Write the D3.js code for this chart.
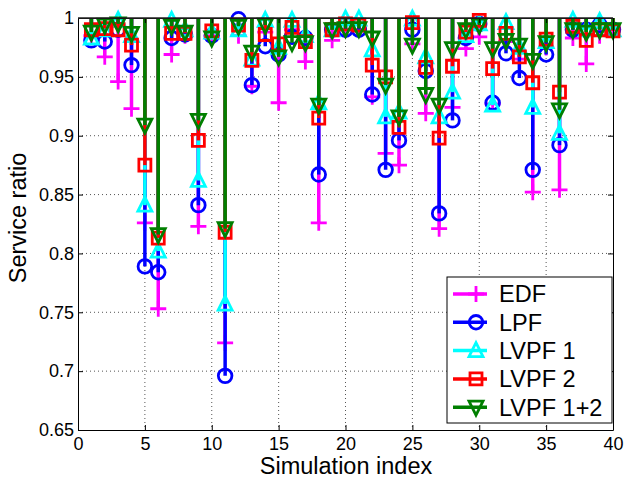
<!DOCTYPE html>
<html>
<head>
<meta charset="utf-8">
<script src="https://cdn.jsdelivr.net/npm/d3@7"></script>
<style>
  body { margin: 0; background: #fff; }
  text { font-family: "Liberation Sans", Arial, sans-serif; fill: #000; }
</style>
</head>
<body>
<div class="chart"></div>
<script>
/* Data
============================================= */
const simIndex = d3.range(1, 41);

const edf = [0.985, 0.967, 0.946, 0.923, 0.826, 0.753, 0.969, 0.985, 0.823, 0.985,
             0.724, 0.985, 0.942, 0.988, 0.928, 0.990, 0.963, 0.826, 0.981, 0.990,
             0.990, 0.933, 0.885, 0.875, 0.978, 0.919, 0.821, 0.924, 0.974, 0.984,
             0.927, 0.980, 0.965, 0.852, 0.975, 0.854, 0.983, 0.961, 0.985, 0.990];

const lpf = [0.981, 0.980, 0.990, 0.960, 0.789, 0.784, 0.983, 0.986, 0.841, 0.985,
             0.696, 0.999, 0.943, 0.976, 0.969, 0.984, 0.983, 0.867, 0.990, 0.990,
             0.990, 0.935, 0.871, 0.896, 0.990, 0.955, 0.834, 0.913, 0.983, 0.995,
             0.928, 0.970, 0.949, 0.871, 0.969, 0.892, 0.990, 0.990, 0.994, 0.990];

const lvpf1 = [0.983, 0.990, 0.998, 0.985, 0.841, 0.802, 0.998, 0.990, 0.862, 0.988,
               0.757, 0.990, 0.965, 0.998, 0.975, 0.998, 0.985, 0.928, 0.990, 0.999,
               0.999, 0.973, 0.916, 0.920, 0.999, 0.967, 0.916, 0.937, 0.985, 0.995,
               0.926, 0.996, 0.975, 0.924, 0.980, 0.902, 0.998, 0.990, 0.997, 0.990];

const lvpf2 = [0.990, 0.991, 0.990, 0.977, 0.875, 0.813, 0.987, 0.987, 0.896, 0.989,
               0.818, 0.994, 0.964, 0.986, 0.978, 0.992, 0.980, 0.915, 0.990, 0.995,
               0.994, 0.960, 0.950, 0.907, 0.996, 0.958, 0.898, 0.959, 0.988, 0.998,
               0.957, 0.987, 0.967, 0.945, 0.982, 0.937, 0.993, 0.981, 0.990, 0.989];

const lvpf12 = [0.988, 0.994, 0.995, 0.987, 0.909, 0.816, 0.993, 0.988, 0.913, 0.983,
                0.821, 0.993, 0.971, 0.994, 0.967, 0.979, 0.979, 0.926, 0.990, 0.991,
                0.991, 0.983, 0.943, 0.916, 0.977, 0.935, 0.926, 0.974, 0.990, 0.994,
                0.974, 0.981, 0.977, 0.964, 0.979, 0.922, 0.990, 0.988, 0.990, 0.990];

const seriesNames = ["EDF", "LPF", "LVPF 1", "LVPF 2", "LVPF 1+2"];
const seriesValues = [edf, lpf, lvpf1, lvpf2, lvpf12];
const seriesColors = ["#ff00ff", "#0000ff", "#00ffff", "#ff0000", "#007f00"];
const seriesMarkers = ["plus", "circle", "triangleUp", "square", "triangleDown"];

const xTicks = [0, 5, 10, 15, 20, 25, 30, 35, 40];
const yTicks = [0.65, 0.7, 0.75, 0.8, 0.85, 0.9, 0.95, 1];

const textX = "Simulation index";
const textY = "Service ratio";

/* Layout
============================================= */
const SVG_WIDTH = 624;
const SVG_HEIGHT = 482;

var margin = { top: 18, left: 78, right: 11, bottom: 52 };
var width = SVG_WIDTH - margin.left - margin.right;
var height = SVG_HEIGHT - margin.top - margin.bottom;

var svg = d3.select(".chart")
    .append("svg")
    .attr("width", SVG_WIDTH)
    .attr("height", SVG_HEIGHT);

var chart = svg.append("g")
    .attr("transform", `translate(${margin.left}, ${margin.top})`);

var xLinearScale = d3.scaleLinear().domain([0, 40]).range([0, width]);
var yLinearScale = d3.scaleLinear().domain([0.65, 1]).range([height, 0]);

// grid (dotted, under the data)
var grid = chart.append("g");
grid.selectAll(".gx")
    .data(xTicks.slice(1, -1))
    .enter()
    .append("line")
    .attr("x1", d => xLinearScale(d)).attr("x2", d => xLinearScale(d))
    .attr("y1", 0).attr("y2", height)
    .attr("stroke", "#555").attr("stroke-width", 1)
    .attr("stroke-dasharray", "1,3");
grid.selectAll(".gy")
    .data(yTicks.slice(1, -1))
    .enter()
    .append("line")
    .attr("y1", d => yLinearScale(d)).attr("y2", d => yLinearScale(d))
    .attr("x1", 0).attr("x2", width)
    .attr("stroke", "#555").attr("stroke-width", 1)
    .attr("stroke-dasharray", "1,3");

/*
 * marker path centred on 0,0
 */
function markerPath(type) {
    switch (type) {
        case "plus": return "M-8,0H8M0,-8V8";
        case "circle": return "M6.8,0A6.8,6.8 0 1,1 -6.8,0A6.8,6.8 0 1,1 6.8,0Z";
        case "triangleUp": return "M0,-8L7,6L-7,6Z";
        case "triangleDown": return "M0,8L7,-6L-7,-6Z";
        case "square": return "M-6,-6H6V6H-6Z";
    }
}

// stems + markers, series drawn in order
seriesValues.forEach(function(values, s) {
    var g = chart.append("g");
    var pts = simIndex.map((d, i) => ({ x: d, y: values[i] }));

    g.selectAll("line")
        .data(pts)
        .enter()
        .append("line")
        .attr("x1", d => xLinearScale(d.x)).attr("x2", d => xLinearScale(d.x))
        .attr("y1", yLinearScale(1)).attr("y2", d => yLinearScale(d.y))
        .attr("stroke", seriesColors[s])
        .attr("stroke-width", 3.5);

    g.selectAll("path")
        .data(pts)
        .enter()
        .append("path")
        .attr("transform", d => `translate(${xLinearScale(d.x)}, ${yLinearScale(d.y)})`)
        .attr("d", markerPath(seriesMarkers[s]))
        .attr("fill", "none")
        .attr("stroke", seriesColors[s])
        .attr("stroke-width", 2.8);
});

// axes
var bottomAxis = d3.axisBottom(xLinearScale).tickValues(xTicks).tickSize(-5).tickSizeOuter(0).tickPadding(5);
var leftAxis = d3.axisLeft(yLinearScale).tickValues(yTicks).tickSize(-5).tickSizeOuter(0).tickPadding(4)
    .tickFormat(d => String(+d.toFixed(2)));
var topAxis = d3.axisTop(xLinearScale).tickValues(xTicks).tickSize(-5).tickSizeOuter(0).tickFormat("");
var rightAxis = d3.axisRight(yLinearScale).tickValues(yTicks).tickSize(-5).tickSizeOuter(0).tickFormat("");

var xAxis = chart.append("g").attr("transform", `translate(0, ${height})`).call(bottomAxis);
var yAxis = chart.append("g").call(leftAxis);
chart.append("g").call(topAxis);
chart.append("g").attr("transform", `translate(${width}, 0)`).call(rightAxis);

chart.selectAll(".domain").attr("stroke", "#000").attr("stroke-width", 1);
chart.selectAll(".tick line").attr("stroke", "#000");
xAxis.selectAll("text").attr("font-size", 18).attr("dy", "0.85em");
yAxis.selectAll("text").attr("font-size", 18);

// baseline at 1
chart.append("line")
    .attr("x1", 0).attr("x2", width)
    .attr("y1", yLinearScale(1)).attr("y2", yLinearScale(1))
    .attr("stroke", "#222").attr("stroke-width", 1.5);

// axis titles
svg.append("text")
    .attr("x", 346)
    .attr("y", 473.5)
    .attr("text-anchor", "middle")
    .attr("font-size", 23.5)
    .text(textX);

svg.append("text")
    .attr("transform", "translate(25.5, 218) rotate(-90)")
    .attr("text-anchor", "middle")
    .attr("font-size", 23.5)
    .text(textY);

// legend
var legend = svg.append("g").attr("transform", "translate(447, 277)");
legend.append("rect")
    .attr("width", 165).attr("height", 146)
    .attr("fill", "#fff").attr("stroke", "#000").attr("stroke-width", 1);

seriesNames.forEach(function(name, s) {
    var ly = 17 + s * 28.3;
    var row = legend.append("g").attr("transform", `translate(0, ${ly})`);
    row.append("line")
        .attr("x1", 6).attr("x2", 40)
        .attr("stroke", seriesColors[s]).attr("stroke-width", 3.5);
    row.append("path")
        .attr("transform", "translate(29, 0)")
        .attr("d", markerPath(seriesMarkers[s]))
        .attr("fill", "none")
        .attr("stroke", seriesColors[s])
        .attr("stroke-width", 2.8);
    row.append("text")
        .attr("x", 52).attr("y", 8.4)
        .attr("font-size", 23.5)
        .text(name);
});
</script>
</body>
</html>
